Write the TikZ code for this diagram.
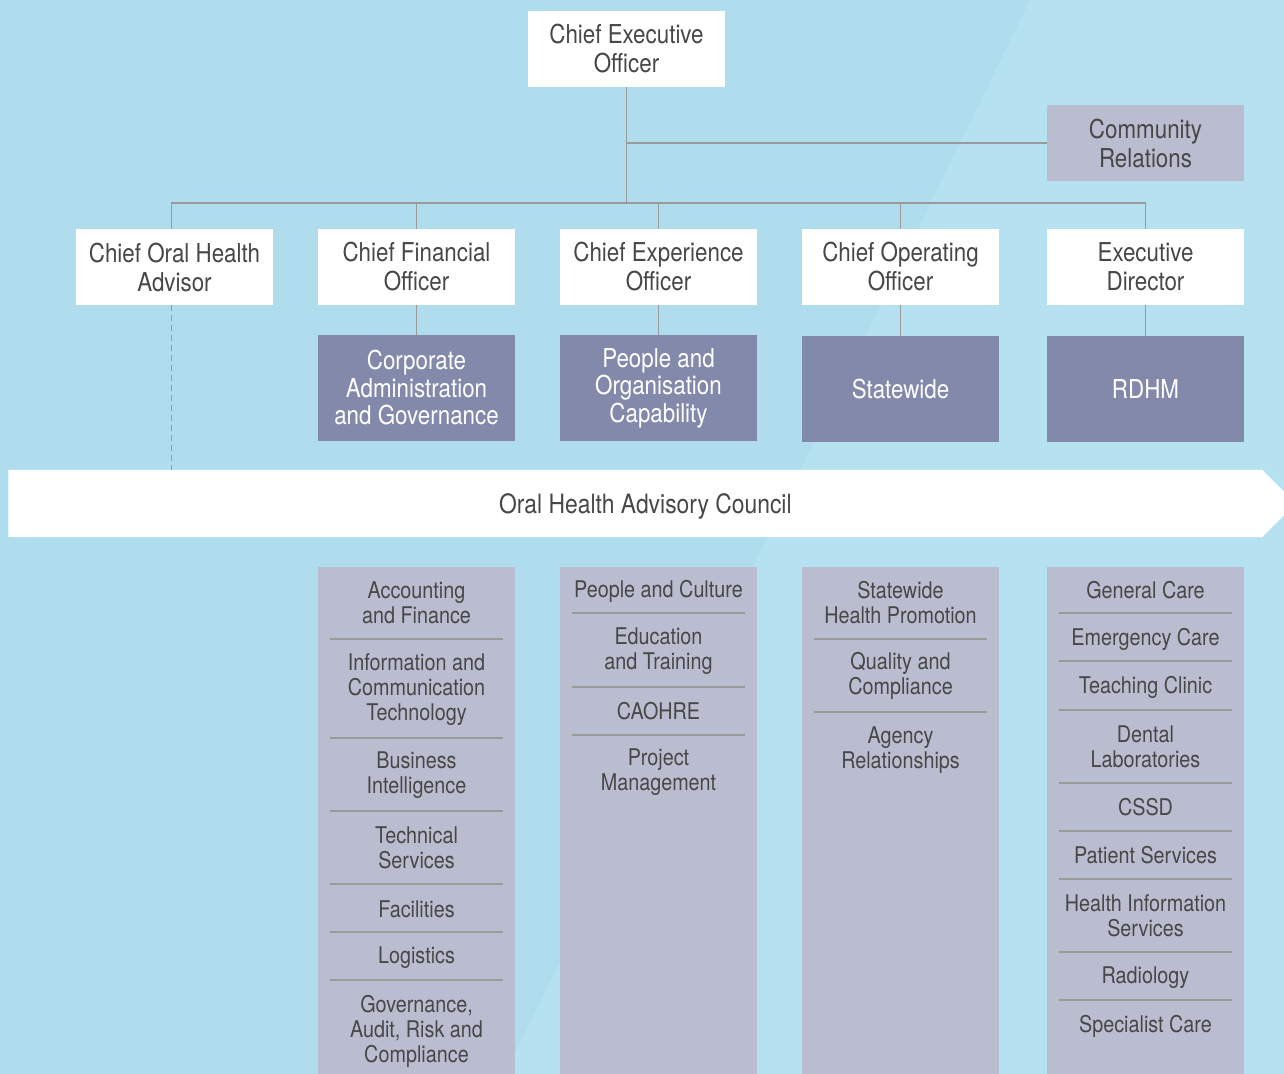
\documentclass[tikz,border=0pt]{standalone}
\usepackage{fontspec}
\setmainfont{TeX Gyre Heros}[FakeStretch=0.86]
\usepackage{tikz}
\usetikzlibrary{shapes.symbols, positioning}
\definecolor{SkyBg}{HTML}{B0DDED}
\definecolor{SkyLt}{HTML}{B6E1F0}
\definecolor{Lavender}{HTML}{BABCCF}
\definecolor{SlateD}{HTML}{8389AA}
\definecolor{InkG}{HTML}{474747}
\definecolor{RuleG}{HTML}{9A9A9A}
\tikzset{
  postW/.style={rectangle, fill=white, minimum width=98.5pt, minimum height=38pt,
                inner sep=0pt, align=center, text=InkG,
                font=\fontsize{13}{14.5}\selectfont},
  commB/.style={postW, fill=Lavender},
  unitD/.style={rectangle, fill=SlateD, minimum width=98.5pt, minimum height=53pt,
                inner sep=0pt, align=center, text=white,
                font=\fontsize{13}{13.75}\selectfont},
  colB/.style={rectangle, fill=Lavender, minimum width=98.5pt,
               minimum height=256pt, inner sep=0pt, anchor=north},
  itemT/.style={align=center, inner sep=0pt, text=InkG,
                font=\fontsize{11.5}{12.5}\selectfont},
  sepL/.style={draw=RuleG, line width=0.7pt},
  linkE/.style={draw=RuleG, line width=0.8pt},
  linkD/.style={linkE, dash pattern=on 3pt off 2pt},
}

\begin{document}
\begin{tikzpicture}[x=0.5pt, y=-0.5pt]
    %% background with the lighter diagonal band
    \useasboundingbox (0,0) rectangle (1284,1074);
    \clip (0,0) rectangle (1284,1074);
    \fill[SkyBg] (0,0) rectangle (1284,1074);
    \fill[SkyLt] (1030,0) -- (1284,0) -- (1284,1074) -- (505,1074) -- cycle;
    %% top of the tree
    \node[postW] (ceo)  at (626.5,49)   {Chief Executive\\Officer};
    \node[commB] (comm) at (1145.5,143) {Community\\Relations};
    \coordinate (bus) at (626.5,203);
    %% executive posts
    \node[postW] (advisor) at (174.5,267) {Chief Oral Health\\Advisor};
    \node[postW] (cfo)     at (416.5,267) {Chief Financial\\Officer};
    \node[postW] (cxo)     at (658.5,267) {Chief Experience\\Officer};
    \node[postW] (coo)     at (900.5,267) {Chief Operating\\Officer};
    \node[postW] (exec)    at (1145.5,267) {Executive\\Director};
    %% divisions
    \node[unitD] (corp)   at (416.5,388)  {Corporate\\Administration\\and Governance};
    \node[unitD] (people) at (658.5,388)  {People and\\Organisation\\Capability};
    \node[unitD] (state)  at (900.5,389)  {Statewide};
    \node[unitD] (rdhm)   at (1145.5,389) {RDHM};
    %% reporting lines
    \draw[linkE] (ceo.south) -- (bus);
    \draw[linkE] (ceo.south |- comm.west) -- (comm.west);
    \draw[linkE] ([xshift=-1.5pt]advisor.north) |- (exec.north |- bus) -- (exec.north);
    \foreach \n in {cfo,cxo,coo}
      \draw[linkE] (\n.north) -- (\n.north |- bus);
    \draw[linkE] (cfo.south)  -- (corp.north);
    \draw[linkE] (cxo.south)  -- (people.north);
    \draw[linkE] (coo.south)  -- (state.north);
    \draw[linkE] (exec.south) -- (rdhm.north);
    %% council banner
    \node[signal, signal to=east, signal pointer angle=90, fill=white,
          minimum width=643.75pt, minimum height=33.5pt, inner sep=0pt,
          anchor=west, text=InkG, font=\fontsize{13.3}{14.5}\selectfont]
          (council) at (8,503.5)
          {\hspace*{10pt}\raisebox{-5.2pt}[0pt][0pt]{Oral Health Advisory Council}};
    \draw[linkD] ([xshift=-1.5pt]advisor.south) -- ([xshift=-1.5pt]advisor.south |- council.north);
    %% service columns
    \node[colB] (colCorp)   at (416.5,567)  {};
    \node[colB] (colPeople) at (658.5,567)  {};
    \node[colB] (colState)  at (900.5,567)  {};
    \node[colB] (colRdhm)   at (1145.5,567) {};
    \node[itemT] (a1) at (416.5,602.5) {Accounting\\and Finance};
    \node[itemT] (a2) at (416.5,689.5) {Information and\\Communication\\Technology};
    \node[itemT] (a3) at (416.5,775.5) {Business\\Intelligence};
    \node[itemT] (a4) at (416.5,848)   {Technical\\Services};
    \node[itemT] (a5) at (416.5,909)   {Facilities};
    \node[itemT] (a6) at (416.5,958)   {Logistics};
    \node[itemT] (a7) at (416.5,1031)  {Governance,\\Audit, Risk and\\Compliance};
    \node[itemT] (b1) at (658.5,591)   {People and Culture};
    \node[itemT] (b2) at (658.5,651.5) {Education\\and Training};
    \node[itemT] (b3) at (658.5,711)   {CAOHRE};
    \node[itemT] (b4) at (658.5,772.5) {Project\\Management};
    \node[itemT] (c1) at (900.5,602.5) {Statewide\\Health Promotion};
    \node[itemT] (c2) at (900.5,676)   {Quality and\\Compliance};
    \node[itemT] (c3) at (900.5,750.5) {Agency\\Relationships};
    \node[itemT] (d1) at (1145.5,590)  {General Care};
    \node[itemT] (d2) at (1145.5,639)  {Emergency Care};
    \node[itemT] (d3) at (1145.5,687)  {Teaching Clinic};
    \node[itemT] (d4) at (1145.5,746.5) {Dental\\Laboratories};
    \node[itemT] (d5) at (1145.5,807)  {CSSD};
    \node[itemT] (d6) at (1145.5,855)  {Patient Services};
    \node[itemT] (d7) at (1145.5,916)  {Health Information\\Services};
    \node[itemT] (d8) at (1145.5,978)  {Radiology};
    \node[itemT] (d9) at (1145.5,1026) {Specialist Care};
    %% rules between the items
    \foreach \cx/\y in {416.5/639, 416.5/738, 416.5/811, 416.5/884, 416.5/932,
                        416.5/980, 658.5/613, 658.5/687, 658.5/735,
                        900.5/639, 900.5/712,
                        1145.5/613, 1145.5/661, 1145.5/710, 1145.5/783,
                        1145.5/831, 1145.5/879, 1145.5/952, 1145.5/1000}
      \draw[sepL] (\cx-86.5,\y) -- (\cx+86.5,\y);
  \end{tikzpicture}
\end{document}
